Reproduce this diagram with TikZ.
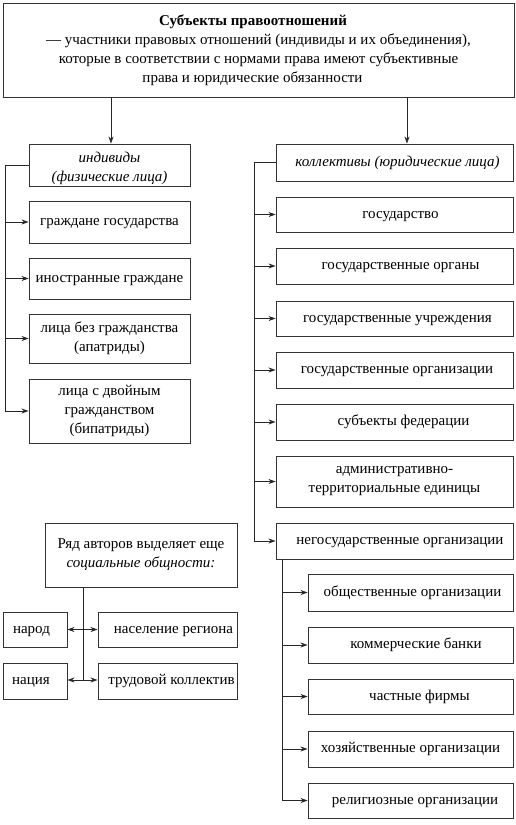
\documentclass[tikz,border=0pt]{standalone}
\usepackage{fontspec}
\setmainfont{Liberation Serif}
\usetikzlibrary{arrows.meta}
\newcommand\sh[1]{\hspace*{#1pt}}
\begin{document}
\begin{tikzpicture}[x=1pt,y=-1pt,
  box/.style={draw=black!80,line width=0.9pt,align=center,inner sep=1pt,
    font=\fontsize{15}{19}\selectfont},
  one/.style={text height=10pt,text depth=3pt},
  conn/.style={draw=black!85,line width=0.8pt},
  arr/.style={conn,-{Stealth[length=7pt,width=5pt]}},
  darr/.style={conn,{Stealth[length=7pt,width=5pt]}-{Stealth[length=7pt,width=5pt]}}]
\useasboundingbox (0,0) rectangle (516,825);
% helper: box from corner to corner
\newcommand\mybox[7][]{\node[box,#1,minimum width=#5pt-#3pt,minimum height=#6pt-#4pt] (#2) at ({(#3+#5)/2},{(#4+#6)/2}) {#7};}
\mybox{top}{3}{3}{514}{97}{\textbf{Субъекты правоотношений}\sh{11}\\— участники правовых отношений (индивиды и их объединения),\sh{12}\\которые в соответствии с нормами права имеют субъективные\sh{12}\\права и юридические обязанности\sh{12}}
\mybox{ind}{29}{144}{190}{186}{\rule{0pt}{17pt}\itshape индивиды\\\itshape (физические лица)}
\mybox[one]{kol}{276}{144}{513}{181}{\sh{6}\itshape коллективы (юридические лица)}
\mybox[one]{L1}{29}{201}{190}{243}{граждане государства}
\mybox[one]{L2}{29}{258}{190}{299}{иностранные граждане}
\mybox{L3}{29}{314}{190}{363}{лица без гражданства\\(апатриды)}
\mybox{L4}{29}{379}{190}{443}{лица с двойным\\гражданством\\(бипатриды)}
\mybox[one]{R1}{276}{197}{513}{232}{\sh{12}государство}
\mybox[one]{R2}{276}{248}{513}{284}{\sh{12}государственные органы}
\mybox[one]{R3}{276}{301}{513}{336}{\sh{6}государственные учреждения}
\mybox[one]{R4}{276}{352}{513}{388}{\sh{5}государственные организации}
\mybox[one]{R5}{276}{404}{513}{440}{\sh{18}субъекты федерации}
\mybox{R6}{276}{456}{513}{507}{административно-\\территориальные единицы}
\mybox[one]{R7}{276}{523}{513}{559}{\sh{11}негосударственные организации}
\mybox[one]{S1}{308}{574}{513}{611}{\sh{4}общественные организации}
\mybox[one]{S2}{308}{627}{513}{663}{\sh{11}коммерческие банки}
\mybox[one]{S3}{308}{679}{513}{714}{\sh{18}частные фирмы}
\mybox[one]{S4}{308}{731}{513}{767}{хозяйственные организации}
\mybox[one]{S5}{308}{783}{513}{818}{\sh{9}религиозные организации}
\mybox{soc}{45}{523}{237}{587}{Ряд авторов выделяет еще\\\itshape социальные общности:}
\mybox[one]{narod}{3}{612}{67}{647}{народ\sh{7}}
\mybox[one]{nas}{98}{612}{237}{647}{\sh{12}население региона}
\mybox[one]{natsia}{3}{663}{67}{699}{нация\sh{8}}
\mybox[one]{trud}{98}{663}{237}{699}{\sh{8}трудовой коллектив}
% top arrows
\coordinate (tA) at (111,97);
\coordinate (tB) at (407,97);
\draw[arr] (tA) -- (tA |- ind.north);
\draw[arr] (tB) -- (tB |- kol.north);
% left bus
\coordinate (lb) at (5,0);
\draw[conn] (ind.west) -- (lb |- ind.west) -- (lb |- L4.west);
\foreach \n in {L1,L2,L3,L4} \draw[arr] (lb |- \n.west) -- (\n.west);
% right bus
\coordinate (rb) at (254,0);
\draw[conn] (kol.west) -- (rb |- kol.west) -- (rb |- R7.west);
\foreach \n in {R1,R2,R3,R4,R5,R6,R7} \draw[arr] (rb |- \n.west) -- (\n.west);
% sub bus
\coordinate (sb) at (282,559);
\draw[conn] (sb) -- (sb |- S5.west);
\foreach \n in {S1,S2,S3,S4,S5} \draw[arr] (sb |- \n.west) -- (\n.west);
% social
\coordinate (sv) at (83,587);
\coordinate (svb) at (83,680);
\draw[conn] (sv) -- (svb);
\draw[darr] (narod.east) -- (nas.west);
\draw[darr] (natsia.east |- svb) -- (trud.west |- svb);
\end{tikzpicture}
\end{document}
